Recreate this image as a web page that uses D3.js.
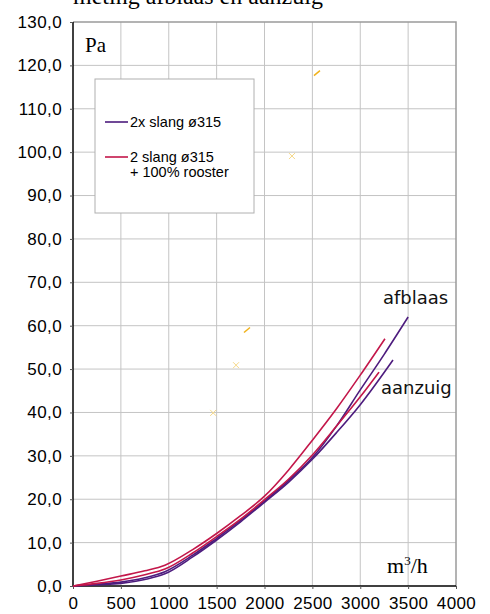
<!DOCTYPE html>
<html>
<head>
<meta charset="utf-8">
<script src="https://cdnjs.cloudflare.com/ajax/libs/d3/7.8.5/d3.min.js"></script>
<style>
  body { margin: 0; background: #fff; }
  svg { display: block; }
</style>
</head>
<body>
<svg width="490" height="614"></svg>
<script>
// waarden
const xTicks = [0, 500, 1000, 1500, 2000, 2500, 3000, 3500, 4000];
const yTicks = [0, 10, 20, 30, 40, 50, 60, 70, 80, 90, 100, 110, 120, 130];

// 2x slang ø315
const slangAfblaasQ = [0, 250, 500, 750, 960, 1250, 1500, 1750, 2000, 2250, 2500, 2750, 3000, 3250, 3500];
const slangAfblaasP = [0, 0.4, 0.9, 1.9, 3.3, 7.1, 11.0, 15.1, 19.6, 24.3, 29.6, 36.8, 45.2, 53.4, 62.0];
const slangAanzuigQ = [0, 250, 500, 750, 960, 1250, 1500, 1750, 2000, 2250, 2500, 2750, 3000, 3342];
const slangAanzuigP = [0, 0.3, 0.6, 1.5, 2.8, 6.7, 10.6, 14.8, 19.3, 23.9, 29.2, 35.3, 41.8, 52.1];

// 2 slang ø315 + 100% rooster
const roosterAfblaasQ = [0, 250, 500, 750, 960, 1250, 1500, 1750, 2000, 2250, 2500, 2750, 3000, 3258];
const roosterAfblaasP = [0, 1.1, 2.3, 3.5, 4.8, 8.4, 12.1, 16.2, 20.7, 26.7, 33.6, 40.8, 48.6, 57.0];
const roosterAanzuigQ = [0, 250, 500, 750, 960, 1250, 1500, 1750, 2000, 2250, 2500, 2750, 3000, 3196];
const roosterAanzuigP = [0, 0.6, 1.4, 2.6, 3.9, 7.6, 11.4, 15.4, 19.9, 24.6, 30.2, 36.8, 43.6, 49.3];

// losse gele punten
const crossQ = [1464, 1703, 2287];
const crossP = [39.9, 50.9, 99.1];
const dashQ = [1817, 2548];
const dashP = [59.0, 118.2];

const svg = d3.select("svg");
const mLeft = 73, mRight = 456, mTop = 22, mBottom = 586;

const x = d3.scaleLinear().domain([0, 4000]).range([mLeft, mRight]);
const y = d3.scaleLinear().domain([0, 130]).range([mBottom, mTop]);

// titel (valt grotendeels buiten beeld, zoals in het origineel)
svg.append("text")
  .attr("x", 73).attr("y", 4)
  .attr("font-family", "Liberation Serif")
  .attr("font-size", 24)
  .text("meting afblaas en aanzuig");

// rasterlijnen
svg.append("g").selectAll("line").data(xTicks.slice(1, -1)).join("line")
  .attr("x1", d => x(d)).attr("x2", d => x(d))
  .attr("y1", mTop).attr("y2", mBottom)
  .attr("stroke", "#c4c4c4");
svg.append("g").selectAll("line").data(yTicks.slice(1, -1)).join("line")
  .attr("x1", mLeft).attr("x2", mRight)
  .attr("y1", d => y(d)).attr("y2", d => y(d))
  .attr("stroke", "#c4c4c4");

// kader boven en rechts
svg.append("path")
  .attr("d", `M${mLeft},${mTop}H${mRight}V${mBottom}`)
  .attr("fill", "none").attr("stroke", "#9a9a9a").attr("stroke-width", 1.5);

// assen
const yAxis = d3.axisLeft(y).tickValues(yTicks).tickSize(3).tickPadding(8)
  .tickFormat(d => d3.format(".1f")(d).replace(".", ","));
const xAxis = d3.axisBottom(x).tickValues(xTicks).tickSize(3).tickPadding(8)
  .tickFormat(d3.format("d"));

const gy = svg.append("g").attr("transform", `translate(${mLeft},0)`).call(yAxis);
const gx = svg.append("g").attr("transform", `translate(0,${mBottom})`).call(xAxis);
[gx, gy].forEach(g => {
  g.select(".domain").attr("stroke", "#000").attr("stroke-width", 1.5);
  g.selectAll(".tick line").attr("stroke", "#555");
  g.selectAll("text").attr("font-family", "Liberation Sans").attr("font-size", 17)
    .attr("letter-spacing", 0.4).attr("fill", "#000");
});
gy.select(".domain").attr("d", `M0,${mTop}V${mBottom}`);
gx.select(".domain").attr("d", `M${mLeft},0H${mRight}`);

// legenda
svg.append("rect")
  .attr("x", 95).attr("y", 79).attr("width", 159).attr("height", 134)
  .attr("fill", "#fff").attr("stroke", "#b0b0b0");

const purple = "#4d1c7e", red = "#c3174a";
const legend = [
  {color: purple, lines: ["2x slang ø315"], y: 122},
  {color: red, lines: ["2 slang ø315", "+ 100% rooster"], y: 157}
];
legend.forEach(l => {
  svg.append("line").attr("x1", 105).attr("x2", 128).attr("y1", l.y).attr("y2", l.y)
    .attr("stroke", l.color).attr("stroke-width", 1.6);
  l.lines.forEach((t, i) => {
    svg.append("text").attr("x", 130).attr("y", l.y + 5 + i * 15)
      .attr("font-family", "Liberation Sans").attr("font-size", 14.5).text(t);
  });
});

// curves
const line = d3.line()
  .x(d => x(d[0])).y(d => y(d[1]))
  .curve(d3.curveMonotoneX);
const zip = (a, b) => a.map((v, i) => [v, b[i]]);
const series = [
  {q: slangAfblaasQ, p: slangAfblaasP, color: purple},
  {q: slangAanzuigQ, p: slangAanzuigP, color: purple},
  {q: roosterAfblaasQ, p: roosterAfblaasP, color: red},
  {q: roosterAanzuigQ, p: roosterAanzuigP, color: red}
];
series.forEach(s => {
  svg.append("path")
    .attr("d", line(zip(s.q, s.p)))
    .attr("fill", "none").attr("stroke", s.color).attr("stroke-width", 1.6);
});

// gele markeringen
svg.append("g").selectAll("path").data(zip(crossQ, crossP)).join("path")
  .attr("transform", d => `translate(${x(d[0])},${y(d[1])})`)
  .attr("d", "M-3,-3L3,3M-3,3L3,-3")
  .attr("stroke", "#f6d98a").attr("stroke-width", 1);
svg.append("g").selectAll("path").data(zip(dashQ, dashP)).join("path")
  .attr("transform", d => `translate(${x(d[0])},${y(d[1])})`)
  .attr("d", "M-3,2.5L3,-2.5")
  .attr("stroke", "#f0b21c").attr("stroke-width", 1.5);

// labels
svg.append("text").attr("x", 85).attr("y", 52)
  .attr("font-family", "Liberation Serif").attr("font-size", 21).text("Pa");
svg.append("text").attr("x", 387).attr("y", 573)
  .attr("font-family", "Liberation Serif").attr("font-size", 22)
  .html('m<tspan dy="-8" font-size="13">3</tspan><tspan dy="8">/h</tspan>');
svg.append("text").attr("x", 383).attr("y", 304)
  .attr("font-family", "DejaVu Sans").attr("font-size", 18).attr("fill", "#111").text("afblaas");
svg.append("text").attr("x", 381).attr("y", 394)
  .attr("font-family", "DejaVu Sans").attr("font-size", 18).attr("fill", "#111").text("aanzuig");
</script>
</body>
</html>
